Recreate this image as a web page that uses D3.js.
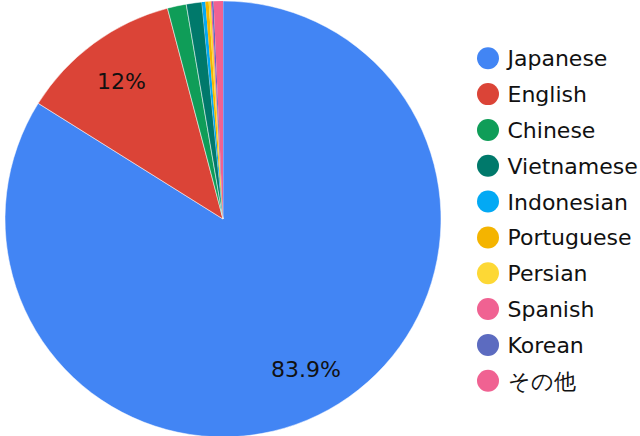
<!DOCTYPE html>
<html lang="en">
<head>
  <meta charset="UTF-8">
  <title>Languages pie</title>
  <style>
    body { margin: 0; background: #fff; }
    svg text { font-family: 'DejaVu Sans', Verdana, sans-serif; }
  </style>
</head>
<body>
<svg id="chart" width="640" height="436"></svg>
<script src="https://d3js.org/d3.v7.min.js"></script>
<script>
// slice data (percent)
const languages = ["Japanese", "English", "Chinese", "Vietnamese", "Indonesian",
                   "Portuguese", "Persian", "Spanish", "Korean", "その他"];
const shares = [83.9, 12.0, 1.4, 1.15, 0.26, 0.24, 0.16, 0.08, 0.12, 0.69];
const colors = ["#4285f4", "#db4437", "#0f9d58", "#00796b", "#03a9f4",
                "#f4b400", "#fdd835", "#f06292", "#5c6bc0", "#f06292"];

const svg = d3.select("#chart");
const cx = 223, cy = 219, R = 218;

const pie = d3.pie().sort(null).value(d => d.v);
const rows = languages.map((name, i) => ({ name, v: shares[i], c: colors[i] }));
const arcs = pie(rows);
const total = d3.sum(shares);

const arc = d3.arc().innerRadius(0).outerRadius(R);
const labelArc = d3.arc().innerRadius(R * 0.785).outerRadius(R * 0.785);

const g = svg.append("g").attr("transform", `translate(${cx},${cy})`);

g.selectAll("path")
  .data(arcs)
  .join("path")
    .attr("d", arc)
    .attr("fill", d => d.data.c)
    .attr("stroke", d => d.data.v > 1 ? "#fff" : "none")
    .attr("stroke-width", 0.5);

// only slices big enough get a label
const fmt = v => {
  const p = v / total * 100;
  return (Math.round(p * 10) / 10) + "%";
};
g.selectAll("text.lbl")
  .data(arcs.filter(d => d.data.v / total > 0.05))
  .join("text")
    .attr("class", "lbl")
    .attr("transform", d => `translate(${labelArc.centroid(d)})`)
    .attr("text-anchor", "middle")
    .attr("dy", "0.36em")
    .attr("font-size", 22)
    .attr("fill", "#111")
    .text(d => fmt(d.data.v));

// legend
const y = d3.scalePoint().domain(languages).range([58.3, 380.7]);
const leg = svg.append("g").selectAll("g")
  .data(rows)
  .join("g")
    .attr("transform", d => `translate(488,${y(d.name)})`);
leg.append("circle").attr("r", 11).attr("fill", d => d.c);
leg.append("text")
  .attr("x", 19.5)
  .attr("dy", "0.36em")
  .attr("font-size", 22)
  .attr("fill", "#111")
  .text(d => d.name);
</script>
</body>
</html>
